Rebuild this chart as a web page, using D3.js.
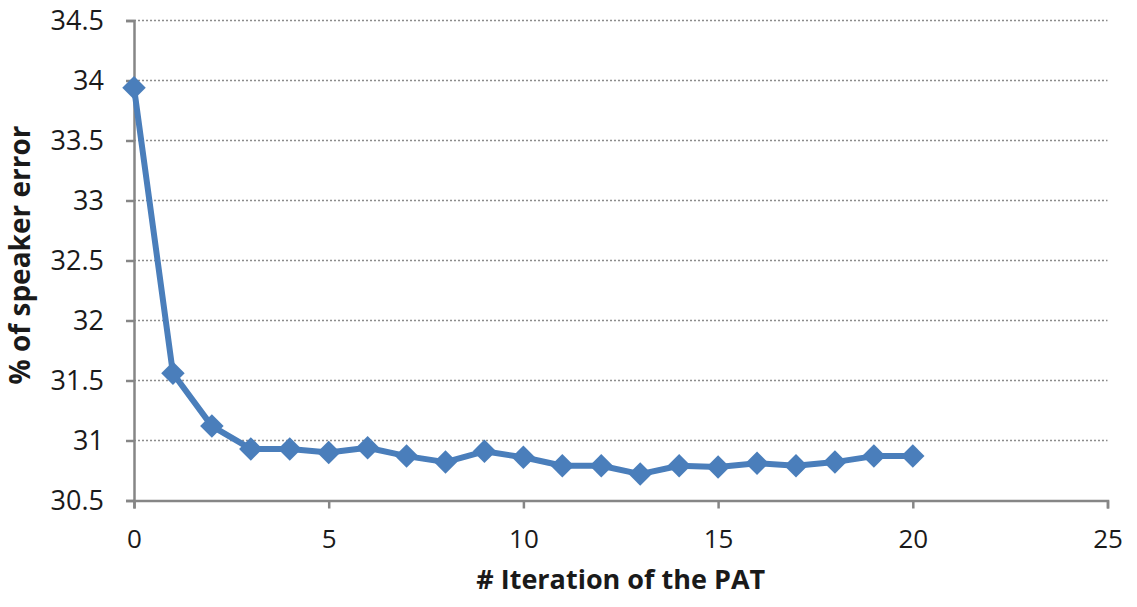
<!DOCTYPE html>
<html>
<head>
<meta charset="utf-8">
<script src="https://cdn.jsdelivr.net/npm/d3@7"></script>
<style>
  body { margin: 0; background: #fff; }
  text { font-family: "Open Sans", sans-serif; fill: #1a1a1a; }
</style>
</head>
<body>
<div id="chart"></div>
<script>
const iterations = [0,1,2,3,4,5,6,7,8,9,10,11,12,13,14,15,16,17,18,19,20];
const speakerError = [33.94,31.56,31.12,30.93,30.93,30.90,30.94,30.87,30.82,30.91,30.86,
  30.79,30.79,30.72,30.79,30.78,30.81,30.79,30.82,30.87,30.87];
const xTicks = [0,5,10,15,20,25];
const yTicks = [30.5,31,31.5,32,32.5,33,33.5,34,34.5];

const W = 1137, H = 607;
const m = {t:20.5, r:29.5, b:106.5, l:134};

const svg = d3.select('#chart').append('svg')
  .attr('width', W)
  .attr('height', H);

const x = d3.scaleLinear().domain([0,25]).range([m.l, W - m.r]);
const y = d3.scaleLinear().domain([30.5,34.5]).range([H - m.b, m.t]);

// gridlines
svg.append('g')
  .selectAll('line')
  .data(yTicks.slice(1))
  .enter().append('line')
  .attr('x1', m.l).attr('x2', W - m.r)
  .attr('y1', d => y(d)).attr('y2', d => y(d))
  .attr('stroke', '#8c8c8c')
  .attr('stroke-width', 1.5)
  .attr('stroke-dasharray', '2,2');

// y axis
const yAxis = svg.append('g')
  .attr('transform', `translate(${m.l},0)`)
  .call(d3.axisLeft(y).tickValues(yTicks).tickSize(8).tickPadding(22)
    .tickFormat(d => d3.format('')(d)));
yAxis.select('.domain').attr('stroke', '#868686').attr('stroke-width', 2.5);
yAxis.selectAll('.tick line').attr('stroke', '#868686').attr('stroke-width', 2.5);
yAxis.selectAll('.tick text').style('font-size', '27px').attr('fill', '#1a1a1a').attr('dy', '0.35em');

// x axis
const xAxis = svg.append('g')
  .attr('transform', `translate(0,${H - m.b})`)
  .call(d3.axisBottom(x).tickValues(xTicks).tickSize(8).tickPadding(21));
xAxis.select('.domain').attr('stroke', '#868686').attr('stroke-width', 2.5);
xAxis.selectAll('.tick line').attr('stroke', '#868686').attr('stroke-width', 2.5);
xAxis.selectAll('.tick text').style('font-size', '26px').attr('fill', '#1a1a1a');

// axis titles
svg.append('text')
  .attr('x', (m.l + W - m.r) / 2)
  .attr('y', 589)
  .attr('text-anchor', 'middle')
  .style('font-size', '27px')
  .style('font-weight', 'bold')
  .text('# Iteration of the PAT');

svg.append('text')
  .attr('transform', `translate(30, 255) rotate(-90)`)
  .attr('text-anchor', 'middle')
  .style('font-size', '28px')
  .style('font-weight', 'bold')
  .text('% of speaker error');

// line + markers
const pts = iterations.map((d, i) => [d, speakerError[i]]);
const line = d3.line().x(d => x(d[0])).y(d => y(d[1]));

svg.append('path')
  .datum(pts)
  .attr('d', line)
  .attr('fill', 'none')
  .attr('stroke', '#4a7ebb')
  .attr('stroke-width', 6)
  .attr('stroke-linejoin', 'round');

svg.append('g')
  .selectAll('path')
  .data(pts)
  .enter().append('path')
  .attr('transform', d => `translate(${x(d[0])},${y(d[1])}) rotate(45)`)
  .attr('d', d3.symbol().type(d3.symbolSquare).size(275))
  .attr('fill', '#4a7ebb');
</script>
</body>
</html>
